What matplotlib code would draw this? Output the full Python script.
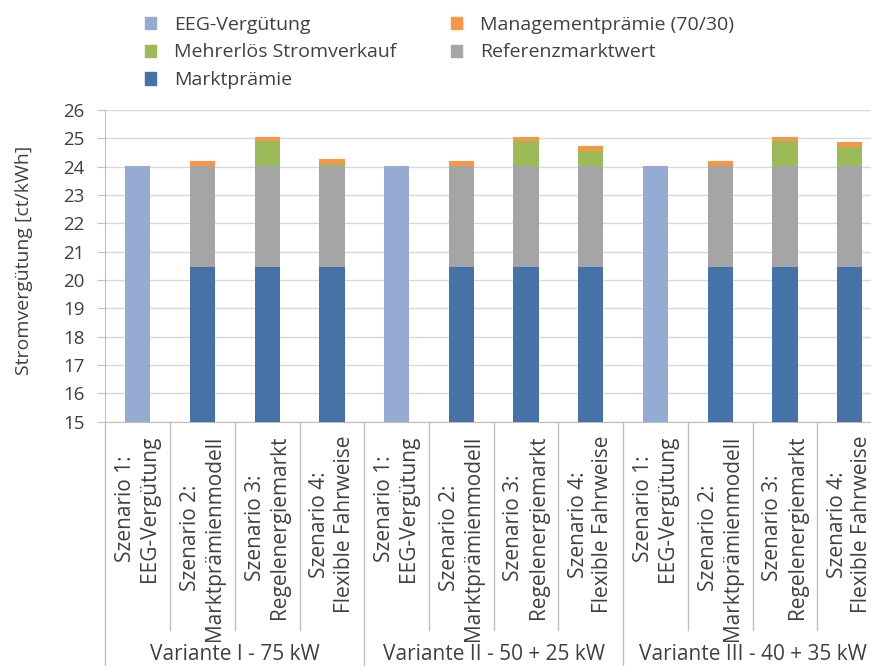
import matplotlib
matplotlib.use("Agg")
import matplotlib.pyplot as plt
import numpy as np
from matplotlib.patches import Patch
import matplotlib.transforms as mtransforms

plt.rcParams['font.family'] = ['Open Sans', 'DejaVu Sans']

# ---- data ----
categories = ["Szenario 1:\nEEG-Vergütung", "Szenario 2:\nMarktprämienmodell",
              "Szenario 3:\nRegelenergiemarkt", "Szenario 4:\nFlexible Fahrweise"] * 3
groups = ["Variante I - 75 kW", "Variante II - 50 + 25 kW", "Variante III - 40 + 35 kW"]
eeg = [24.02, 0, 0, 0, 24.02, 0, 0, 0, 24.02, 0, 0, 0]
marktpraemie = [0, 20.47, 20.47, 20.47, 0, 20.47, 20.47, 20.47, 0, 20.47, 20.47, 20.47]
referenz = [0, 3.56, 3.56, 3.56, 0, 3.56, 3.56, 3.56, 0, 3.56, 3.56, 3.56]
mehrerloes = [0, 0, 0.87, 0.07, 0, 0, 0.87, 0.53, 0, 0, 0.87, 0.66]
management = [0, 0.17, 0.16, 0.18, 0, 0.17, 0.16, 0.17, 0, 0.17, 0.16, 0.17]
yticks = list(range(15, 27))

c_eeg = "#95ABD1"
c_mp = "#4572A7"
c_ref = "#A5A5A5"
c_mehr = "#9BBB59"
c_man = "#F79646"
txt = "#404040"
grid_c = "#D9D9D9"
axis_c = "#BFBFBF"

W, H = 871, 666
fig = plt.figure(figsize=(W / 100, H / 100), dpi=100)
left, right = 105.4, 882.0
top, bottom = 110.0, 421.7
ax = fig.add_axes([left / W, 1 - bottom / H, (right - left) / W, (bottom - top) / H])

x = np.arange(len(categories))
bw = 0.39
mp = np.array(marktpraemie)
rf = np.array(referenz)
mh = np.array(mehrerloes)
mg = np.array(management)

ax.bar(x, eeg, bw, color=c_eeg, zorder=3)
ax.bar(x, mp, bw, color=c_mp, zorder=3)
ax.bar(x, rf, bw, bottom=mp, color=c_ref, zorder=3)
ax.bar(x, mh, bw, bottom=mp + rf, color=c_mehr, zorder=3)
ax.bar(x, mg, bw, bottom=mp + rf + mh, color=c_man, zorder=3)

ax.set_xlim(-0.5, len(categories) - 0.5)
ax.set_ylim(15, 26)
ax.set_yticks(yticks)
ax.yaxis.grid(True, color=grid_c, linewidth=1.0, zorder=0)
ax.set_axisbelow(True)
for s in ["top", "right"]:
    ax.spines[s].set_visible(False)
ax.spines["left"].set_color(axis_c)
ax.spines["bottom"].set_color(axis_c)
ax.tick_params(axis="y", length=6, color=axis_c, labelsize=13.5, labelcolor=txt, pad=9)
ax.set_xticks(x)
ax.set_xticklabels(categories, rotation=90, va="top", ha="center",
                   multialignment="center", fontsize=15, color=txt, linespacing=1.2)
ax.tick_params(axis="x", length=0, pad=10)

ax.set_ylabel("Stromvergütung [ct/kWh]", fontsize=14, color=txt)
ax.yaxis.set_label_coords(-0.0935, 0.519)

# separators under the axis
trans = mtransforms.blended_transform_factory(ax.transData, ax.transAxes)
axh = bottom - top
short_end = -(630 - bottom) / axh
long_end = -(H - bottom) / axh
for i in range(len(categories) + 1):
    xb = i - 0.5
    if i % 4 == 0:
        ax.plot([xb, xb], [0, long_end], transform=trans, color=axis_c, lw=1.0, clip_on=False)
    else:
        ax.plot([xb, xb], [0, short_end], transform=trans, color=axis_c, lw=1.0, clip_on=False)

grp_y = -(655 - bottom) / axh
for g, name in enumerate(groups):
    ax.text(g * 4 + 1.5, grp_y, name, transform=trans, ha="center", va="center",
            fontsize=15, color=txt)

handles = [Patch(color=c_eeg), Patch(color=c_mehr), Patch(color=c_mp),
           Patch(color=c_man), Patch(color=c_ref)]
labels = ["EEG-Vergütung", "Mehrerlös Stromverkauf", "Marktprämie",
          "Managementprämie (70/30)", "Referenzmarktwert"]
fig.legend(handles, labels, ncol=2, loc="upper left",
           bbox_to_anchor=(145 / W, 1 - 15.5 / H), frameon=False, fontsize=14,
           handlelength=0.58, handleheight=0.58, handletextpad=0.93,
           columnspacing=2.8, labelspacing=0.51, borderpad=0, borderaxespad=0,
           labelcolor=txt)

fig.savefig("out.png", dpi=100)
